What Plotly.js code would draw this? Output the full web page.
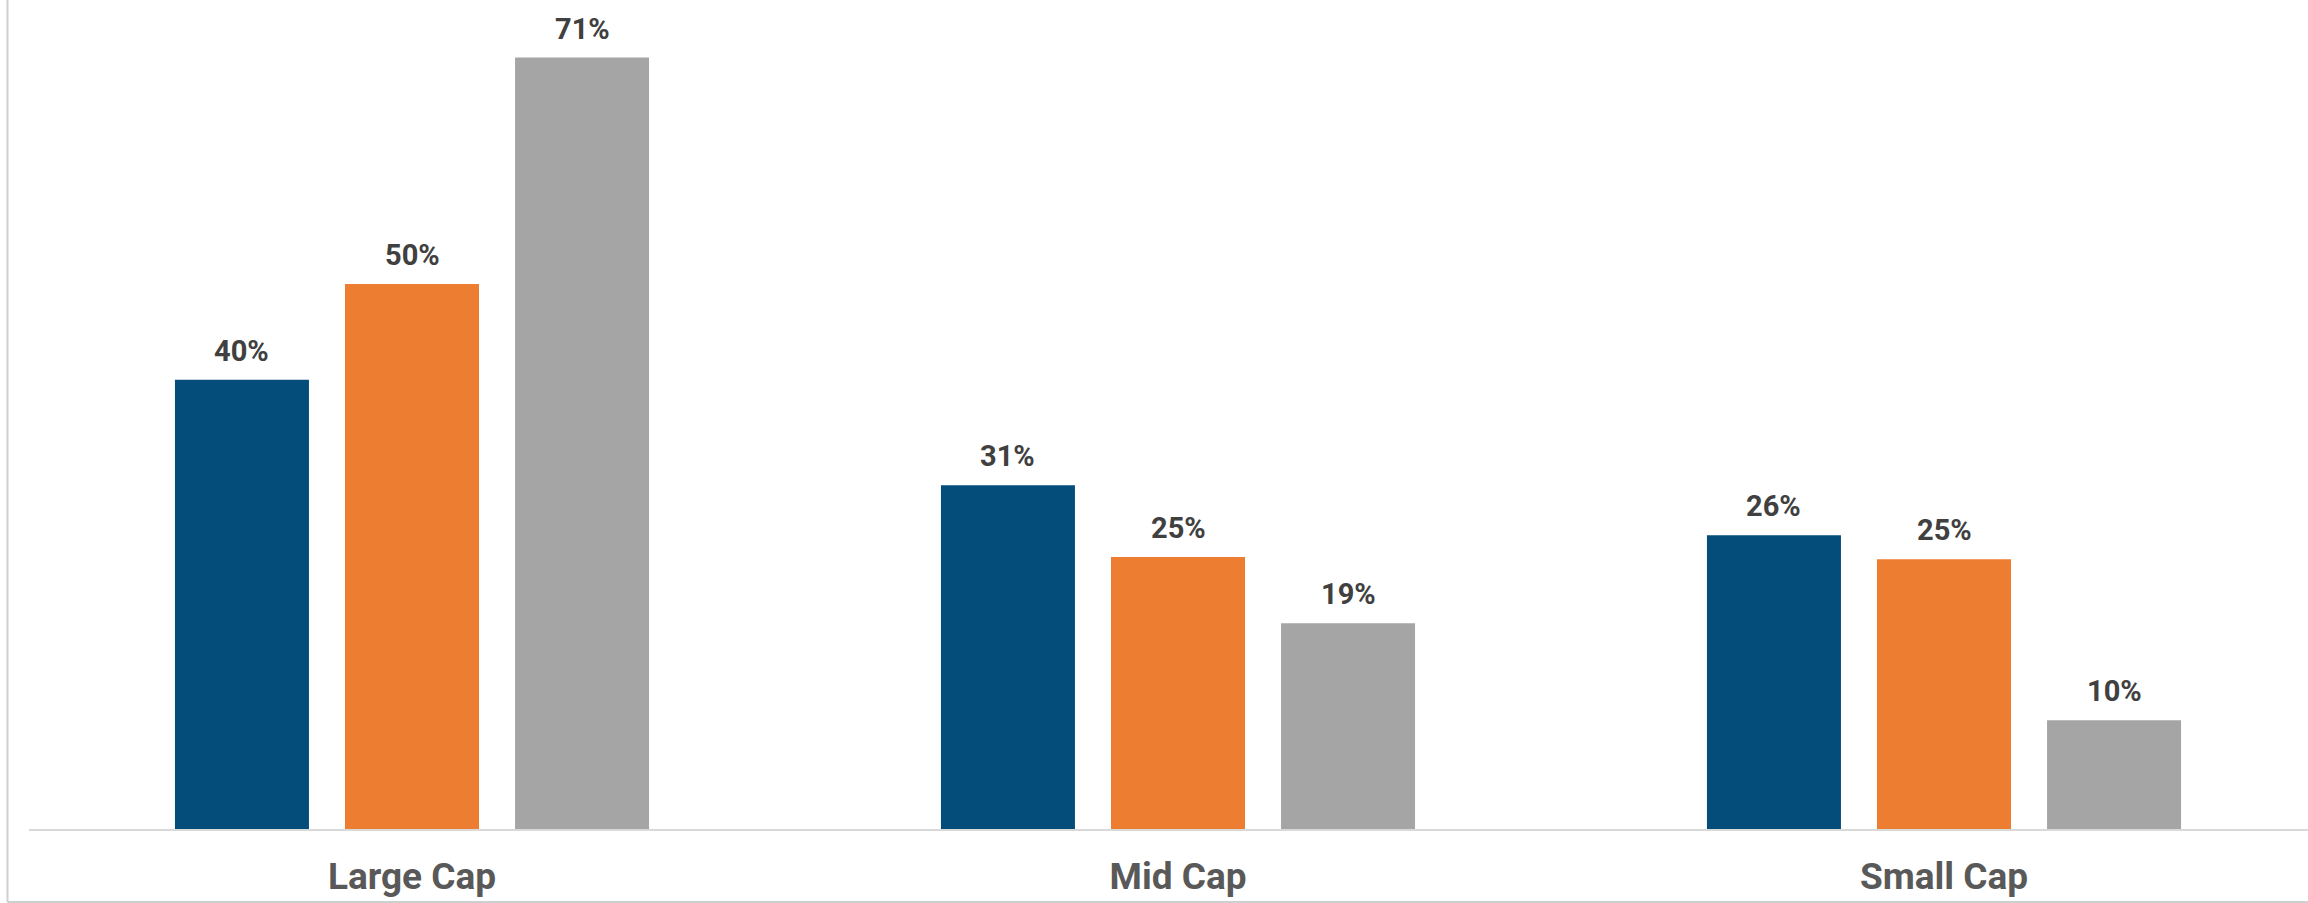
<!DOCTYPE html>
<html>
<head>
<meta charset="utf-8">
<script src="https://cdn.plot.ly/plotly-3.0.1.min.js"></script>
<style>
  html, body { margin: 0; padding: 0; background: #ffffff; }
  #chart { width: 2308px; height: 903px; }
</style>
</head>
<body>
<div id="chart"></div>
<script>
// ---- data ----
const categories = ["Large Cap", "Mid Cap", "Small Cap"];
const series1Values = [41.3, 31.6, 27.0];   // dark blue
const series2Values = [50.1, 25.0, 24.8];   // orange
const series3Values = [70.9, 18.9, 10.0];   // gray
const series1Labels = ["40%", "31%", "26%"];
const series2Labels = ["50%", "25%", "25%"];
const series3Labels = ["71%", "19%", "10%"];
const seriesNames = ["Series 1", "Series 2", "Series 3"];

// ---- styling / layout ----
const colors = ["#044C79", "#ED7D31", "#A5A5A5"];
const W = 2308, H = 903;
const marginL = 29, marginB = 74;
const plotW = W - marginL, plotH = H - marginB;
const pxPerCat = 766;
const pxPerUnit = 10.88;
const bargap = 0.334;
const nSeries = 3;

const allValues = [series1Values, series2Values, series3Values];
const allLabels = [series1Labels, series2Labels, series3Labels];

const traces = allValues.map((vals, s) => ({
  type: "bar",
  name: seriesNames[s],
  x: categories,
  y: vals,
  marker: { color: colors[s], line: { width: 0 } },
  hoverinfo: "skip"
}));

const slot = (1 - bargap) / nSeries;
const annotations = [];
allValues.forEach((vals, s) => {
  vals.forEach((v, i) => {
    annotations.push({
      x: i + (s - (nSeries - 1) / 2) * slot,
      y: v,
      xref: "x", yref: "y",
      text: allLabels[s][i],
      showarrow: false,
      xanchor: "center",
      yanchor: "bottom",
      yshift: 10,
      font: { family: "Roboto", size: 29, color: "#404040", weight: 700 }
    });
  });
});

const toPaperX = px => (px - marginL) / plotW;
const toPaperY = py => (plotH - py) / plotH;

const shapes = [
  { type: "line", xref: "paper", yref: "paper",
    x0: toPaperX(7.5), x1: toPaperX(7.5), y0: toPaperY(0), y1: toPaperY(902),
    line: { color: "#CFCFCF", width: 2 } },
  { type: "line", xref: "paper", yref: "paper",
    x0: toPaperX(7.5), x1: 1, y0: toPaperY(902), y1: toPaperY(902),
    line: { color: "#CFCFCF", width: 2 } }
];

const layout = {
  width: W, height: H,
  margin: { l: marginL, r: 0, t: 0, b: marginB, pad: 0 },
  paper_bgcolor: "#ffffff",
  plot_bgcolor: "#ffffff",
  showlegend: false,
  barmode: "group",
  bargap: bargap,
  bargroupgap: 0.212,
  xaxis: {
    type: "category",
    range: [-0.5, -0.5 + plotW / pxPerCat],
    showgrid: false,
    zeroline: false,
    showline: true,
    linecolor: "#D9D9D9",
    linewidth: 2,
    ticks: "",
    ticklabelstandoff: 14,
    tickfont: { family: "Roboto", size: 37, color: "#595959", weight: 700 },
    fixedrange: true
  },
  yaxis: {
    range: [0, plotH / pxPerUnit],
    visible: false,
    showgrid: false,
    zeroline: false,
    fixedrange: true
  },
  annotations: annotations,
  shapes: shapes
};

Plotly.newPlot("chart", traces, layout, { displayModeBar: false, staticPlot: true });
</script>
</body>
</html>
